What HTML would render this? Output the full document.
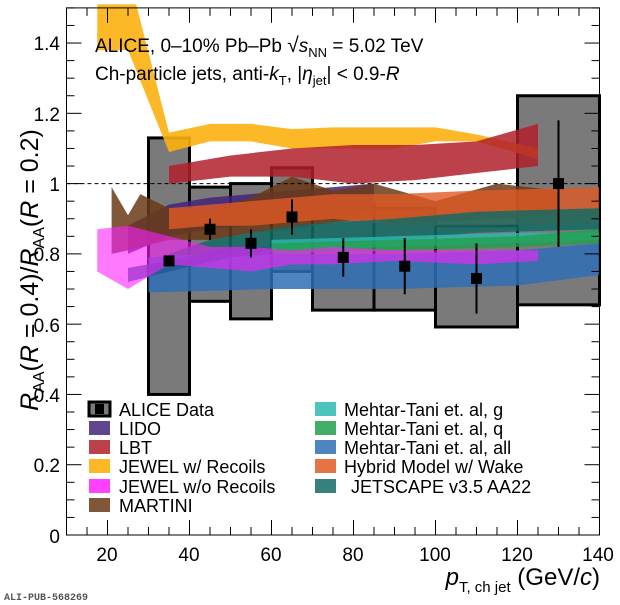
<!DOCTYPE html>
<html><head><meta charset="utf-8"><style>
body{margin:0;background:#fff;}
svg{display:block;font-family:"Liberation Sans",sans-serif;}
</style></head><body>
<svg id="s" width="620" height="605" viewBox="0 0 620 605" xmlns="http://www.w3.org/2000/svg">
<g id="bands"></g>
<g id="axes"></g>
<g font-size="19" fill="#000">
<text x="95" y="52">ALICE, 0–10% Pb–Pb <tspan font-size="21">√</tspan><tspan font-style="italic">s</tspan><tspan font-size="13" dy="5">NN</tspan><tspan dy="-5"> = 5.02 TeV</tspan></text>
<text x="95" y="80">Ch-particle jets, anti-<tspan font-style="italic">k</tspan><tspan font-size="13" dy="5">T</tspan><tspan dy="-5">, |</tspan><tspan font-style="italic">η</tspan><tspan font-size="13" dy="5">jet</tspan><tspan dy="-5">| &lt; 0.9-</tspan><tspan font-style="italic">R</tspan></text>
</g>
<g font-size="19" fill="#000">
<text x="60" y="543" text-anchor="end">0</text>
<text x="60" y="472" text-anchor="end">0.2</text>
<text x="60" y="402" text-anchor="end">0.4</text>
<text x="60" y="332" text-anchor="end">0.6</text>
<text x="60" y="261" text-anchor="end">0.8</text>
<text x="60" y="191" text-anchor="end">1</text>
<text x="60" y="121" text-anchor="end">1.2</text>
<text x="60" y="50" text-anchor="end">1.4</text>
<text x="107" y="561" text-anchor="middle">20</text>
<text x="189" y="561" text-anchor="middle">40</text>
<text x="271" y="561" text-anchor="middle">60</text>
<text x="353" y="561" text-anchor="middle">80</text>
<text x="435" y="561" text-anchor="middle">100</text>
<text x="517" y="561" text-anchor="middle">120</text>
<text x="598" y="561" text-anchor="middle">140</text>
</g>
<text x="600" y="585" text-anchor="end" font-size="24"><tspan font-style="italic">p</tspan><tspan font-size="15" dy="7">T, ch jet</tspan><tspan dy="-7"> (GeV/</tspan><tspan font-style="italic">c</tspan>)</text>
<g transform="translate(38,270) rotate(-90)" font-size="25">
<text text-anchor="middle"><tspan font-style="italic">R</tspan><tspan font-size="16" dy="6">AA</tspan><tspan dy="-6">(</tspan><tspan font-style="italic">R</tspan><tspan> = 0.4)/</tspan><tspan font-style="italic">R</tspan><tspan font-size="16" dy="6">AA</tspan><tspan dy="-6">(</tspan><tspan font-style="italic">R</tspan><tspan> = 0.2)</tspan></text>
</g>
<text x="4" y="600" font-family="Liberation Mono,monospace" font-weight="bold" font-size="10" fill="#555">ALI-PUB-568269</text>
<g id="leg"></g>
<g font-size="18">
<text x="119" y="416">ALICE Data</text>
<text x="119" y="435">LIDO</text>
<text x="119" y="454">LBT</text>
<text x="119" y="473">JEWEL w/ Recoils</text>
<text x="119" y="493">JEWEL w/o Recoils</text>
<text x="119" y="512">MARTINI</text>
<text x="344" y="416">Mehtar-Tani et. al, g</text>
<text x="344" y="435">Mehtar-Tani et. al, q</text>
<text x="344" y="454">Mehtar-Tani et. al, all</text>
<text x="344" y="473">Hybrid Model w/ Wake</text>
<text x="351" y="493">JETSCAPE v3.5 AA22</text>
</g>
</svg>
<script>
const NS="http://www.w3.org/2000/svg";
const X=v=>66.5+(v-10)*4.1, Y=v=>535-351.4*v;
function el(p,t,a){const e=document.createElementNS(NS,t);for(const k in a)e.setAttribute(k,a[k]);p.appendChild(e);return e;}
const B=document.getElementById('bands'),A=document.getElementById('axes'),L=document.getElementById('leg');
const boxes=[[30,40,0.40,1.13],[40,50,0.665,0.99],[50,60,0.615,1.0],[60,70,0.75,1.045],[70,85,0.64,0.945],[85,100,0.64,0.93],[100,120,0.592,0.88],[120,140,0.655,1.25]];
boxes.forEach(b=>el(B,'rect',{x:X(b[0]),y:Y(b[3]),width:X(b[1])-X(b[0]),height:Y(b[2])-Y(b[3]),fill:'#7a7a7a',stroke:'#000','stroke-width':3}));
function band(u,l,c,o){const pts=u.map(p=>X(p[0])+','+Y(Math.min(p[1],1.51))).concat(l.slice().reverse().map(p=>X(p[0])+','+Y(Math.min(p[1],1.51))));el(B,'polygon',{points:pts.join(' '),fill:c,'fill-opacity':o});}
band([[17.5,1.6],[27,1.6],[35,1.145],[45,1.17],[55,1.17],[65,1.155],[75,1.16],[90,1.16],[100,1.16],[110,1.14],[125,1.1]],
     [[17.5,1.38],[25,1.38],[35,1.09],[45,1.12],[55,1.12],[65,1.1],[75,1.1],[90,1.1],[100,1.12],[110,1.12],[125,1.07]],'#fdb010',0.9);
band([[35,1.05],[50,1.08],[65,1.1],[80,1.11],[95,1.11],[110,1.12],[125,1.17]],[[35,1.0],[50,1.02],[65,1.02],[80,1.0],[95,1.01],[110,1.03],[125,1.05]],'#b0202a',0.85);
band([[25,0.88],[35,0.94],[45,0.96],[55,0.97],[65,0.98],[75,0.99],[85,1.0]],[[25,0.8],[35,0.85],[45,0.87],[55,0.88],[65,0.9],[75,0.9],[85,0.92]],'#43237a',0.85);
band([[21,0.99],[25,0.91],[28,0.97],[35,0.93],[45,0.92],[55,0.96],[65,1.02],[75,0.98],[85,1.0],[100,0.95],[115,1.0],[130,0.98]],[[21,0.8],[25,0.81],[35,0.84],[45,0.84],[55,0.86],[65,0.87],[75,0.89],[85,0.9],[100,0.89],[130,0.91]],'#6b3a18',0.85);
band([[35,0.93],[45,0.94],[55,0.95],[65,0.96],[75,0.97],[90,0.97],[110,0.98],[140,0.99]],[[35,0.87],[45,0.88],[55,0.88],[65,0.89],[75,0.9],[90,0.88],[110,0.88],[140,0.89]],'#e05a25',0.8);
band([[35,0.80],[45,0.84],[55,0.86],[65,0.88],[75,0.89],[90,0.9],[110,0.92],[140,0.93]],[[35,0.77],[45,0.78],[55,0.8],[65,0.82],[75,0.83],[90,0.84],[110,0.86],[140,0.87]],'#136b64',0.85);
band([[60,0.84],[90,0.85],[120,0.86],[140,0.86]],[[60,0.81],[90,0.82],[120,0.83],[140,0.84]],'#2db8b0',0.8);
band([[60,0.83],[90,0.84],[120,0.85],[140,0.87]],[[60,0.80],[90,0.81],[120,0.82],[140,0.83]],'#20a050',0.8);
band([[30,0.79],[45,0.80],[60,0.80],[90,0.80],[120,0.81],[140,0.83]],[[30,0.69],[60,0.70],[90,0.70],[120,0.71],[140,0.74]],'#2f6fb5',0.85);
band([[25,0.76],[35,0.78],[50,0.82],[60,0.82]],[[25,0.72],[35,0.75],[50,0.79],[60,0.80]],'#1e5a90',0.8);
band([[17.5,0.87],[25,0.88],[35,0.85],[45,0.82],[55,0.82],[65,0.81],[75,0.82],[90,0.81],[110,0.81],[125,0.81]],[[17.5,0.75],[25,0.7],[35,0.77],[45,0.76],[55,0.75],[65,0.77],[75,0.77],[90,0.78],[110,0.77],[125,0.78]],'#ff20ff',0.6);
el(B,'line',{x1:X(10),x2:X(140),y1:Y(1),y2:Y(1),stroke:'#000','stroke-dasharray':'4,3','stroke-width':1});
[[35,0.78,0.01],[45,0.87,0.03],[55,0.83,0.04],[65,0.905,0.05],[77.5,0.79,0.055],[92.5,0.765,0.08],[110,0.73,0.1],[130,1.0,0.18]].forEach(p=>{
 el(B,'line',{x1:X(p[0]),x2:X(p[0]),y1:Y(p[1]-p[2]),y2:Y(p[1]+p[2]),stroke:'#000','stroke-width':2});
 el(B,'rect',{x:X(p[0])-5.5,y:Y(p[1])-5.5,width:11,height:11,fill:'#000'});});
const x0=X(10),x1=X(140),y0=Y(0),y1=Y(1.5);
el(A,'rect',{x:x0,y:y1,width:x1-x0,height:y0-y1,fill:'none',stroke:'#000','stroke-width':1});
for(let i=0;i<=30;i++){const v=i*0.05,y=Y(v),len=(i%4==0)?15:8;
 el(A,'line',{x1:x0,x2:x0+len,y1:y,y2:y,stroke:'#000'});el(A,'line',{x1:x1,x2:x1-len,y1:y,y2:y,stroke:'#000'});}
for(let v=10;v<=140;v+=5){const x=X(v),len=(v%20==0)?15:8;
 el(A,'line',{x1:x,x2:x,y1:y0,y2:y0-len,stroke:'#000'});el(A,'line',{x1:x,x2:x,y1:y1,y2:y1+len,stroke:'#000'});}
const lc=[['#7a7a7a',1],['#43237a',0.85],['#b0202a',0.85],['#fdb010',0.9],['#ff20ff',0.85],['#6b3a18',0.85]];
const rc=[['#2db8b0',0.85],['#20a050',0.85],['#2f6fb5',0.85],['#e05a25',0.85],['#136b64',0.85]];
const ys=[410,429,448,467,487,506];
lc.forEach((c,i)=>{const r=el(L,'rect',{x:89,y:ys[i]-8,width:21,height:14,fill:c[0],'fill-opacity':c[1]});
 if(i==0){r.setAttribute('stroke','#000');r.setAttribute('stroke-width',3);el(L,'rect',{x:95,y:ys[i]-6,width:9,height:10,fill:'#000'});}});
rc.forEach((c,i)=>el(L,'rect',{x:315,y:ys[i]-8,width:21,height:14,fill:c[0],'fill-opacity':c[1]}));
</script>
</body></html>
